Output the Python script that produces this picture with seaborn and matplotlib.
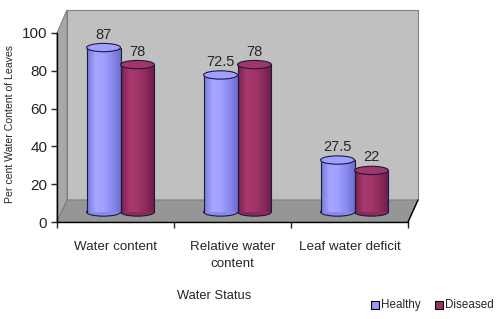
import numpy as np
import pandas as pd
import seaborn as sns
import matplotlib.pyplot as plt
from matplotlib.patches import Polygon, Ellipse
from matplotlib.colors import LinearSegmentedColormap

# Datos
categories = ['Water content', 'Relative water\ncontent', 'Leaf water deficit']
healthy = [87, 72.5, 27.5]
diseased = [78, 78, 22]
series = ['Healthy', 'Diseased']
colors = {'Healthy': '#9999FF', 'Diseased': '#993366'}
y_ticks = [0, 20, 40, 60, 80, 100]

# degradados para simular cilindros
shades = {
    'Healthy': ['#7878D8', '#A6A6FF', '#A0A0FF', '#8A8AEE', '#6E6ECC'],
    'Diseased': ['#7A2050', '#A8386E', '#A33669', '#8C2A5C', '#6E1A46'],
}

df = pd.DataFrame({
    'status': categories * 2,
    'value': healthy + diseased,
    'group': ['Healthy'] * 3 + ['Diseased'] * 3,
})

sns.set_style('white')
plt.rcParams['font.family'] = ['Liberation Sans Narrow', 'Liberation Sans', 'DejaVu Sans']

W, H = 500, 319
fig = plt.figure(figsize=(5, 3.19), dpi=100)

def frac(x0, y0, x1, y1):
    return [x0 / W, 1 - y1 / H, (x1 - x0) / W, (y1 - y0) / H]

# ejes frontales (ticks y etiquetas)
ax = fig.add_axes(frac(57, 33, 408, 222))
ax.set_xlim(-0.5, 2.5)
ax.set_ylim(0, 100)
ax.set_facecolor('none')

dx, dy = 10 / 351, 22 / 189
wall = Polygon([(dx, dy), (1 + dx, dy), (1 + dx, 1.122), (dx, 1.122)], closed=True,
               transform=ax.transAxes, facecolor='#C0C0C0', edgecolor='#808080', lw=0.8,
               clip_on=False, zorder=0)
side = Polygon([(0, 0), (dx, dy), (dx, 1.122), (0, 1.0)], closed=True,
               transform=ax.transAxes, facecolor='#A8A8A8', edgecolor='#808080', lw=0.8,
               clip_on=False, zorder=0)
floor = Polygon([(0, 0), (1, 0), (1 + dx, dy), (dx, dy)], closed=True,
                transform=ax.transAxes, facecolor='#969696', edgecolor='#808080', lw=0.8,
                clip_on=False, zorder=0)
for p in (wall, side, floor):
    ax.add_patch(p)
ax.plot([1, 1 + dx], [0, dy], transform=ax.transAxes, color='black', lw=1, clip_on=False)

for s in ['top', 'right']:
    ax.spines[s].set_visible(False)
for s in ['left', 'bottom']:
    ax.spines[s].set_color('black')
    ax.spines[s].set_linewidth(1)

ax.set_yticks(y_ticks)
ax.set_yticklabels([str(t) for t in y_ticks], fontsize=11)
ax.tick_params(axis='y', length=4, width=1, pad=3, left=True)
ax.set_xticks([-0.5, 0.5, 1.5, 2.5])
ax.set_xticklabels([])
ax.tick_params(axis='x', which='major', length=4, width=1, bottom=True)
ax.set_xticks([0, 1, 2], minor=True)
ax.set_xticklabels(categories, minor=True, fontsize=9.6, linespacing=1.5)
ax.tick_params(axis='x', which='minor', length=0, pad=14)

# ejes de barras (desplazados en profundidad)
ax2 = fig.add_axes(frac(62, 23, 413, 212))
ax2.set_xlim(-0.5, 2.5)
ax2.set_ylim(0, 100)
ax2.patch.set_visible(False)
ax2.axis('off')

sns.barplot(data=df, x='status', y='value', hue='group', hue_order=series,
            palette=colors, width=0.58, ax=ax2, edgecolor='none', linewidth=0,
            legend=False, zorder=2)

eh = 4.4
edge = '#1A1A40'
for i, container in enumerate(ax2.containers):
    name = series[i]
    cmap = LinearSegmentedColormap.from_list(name, shades[name])
    grad = np.linspace(0, 1, 64).reshape(1, -1)
    for bar in container:
        x = bar.get_x()
        w = bar.get_width()
        h = bar.get_height()
        im = ax2.imshow(grad, cmap=cmap, aspect='auto', extent=(x, x + w, 0, h),
                        zorder=2.05, clip_on=False)
        im.set_clip_path(bar)
        ax2.add_patch(Ellipse((x + w / 2, 0), w, eh, facecolor=shades[name][3],
                              edgecolor=edge, lw=0.8, zorder=1.9, clip_on=False))
        ax2.plot([x, x], [0, h], color=edge, lw=0.8, zorder=2.1, clip_on=False)
        ax2.plot([x + w, x + w], [0, h], color=edge, lw=0.8, zorder=2.1, clip_on=False)
        ax2.add_patch(Ellipse((x + w / 2, h), w, eh, facecolor=shades[name][2],
                              edgecolor=edge, lw=0.8, zorder=2.2, clip_on=False))
        ax2.text(x + w / 2, h + 3.2, f'{h:g}', ha='center', va='bottom', fontsize=10.5,
                 zorder=3)
ax2.set_xlim(-0.5, 2.5)
ax2.set_ylim(0, 100)

fig.text(214 / W, 1 - 296 / H, 'Water Status', ha='center', va='center', fontsize=9.3)
fig.text(10 / W, 1 - 124 / H, 'Per cent Water Content of Leaves', ha='center', va='center',
         rotation=90, fontsize=7.6)

# leyenda
for lx, name in [(371, 'Healthy'), (435, 'Diseased')]:
    fig.patches.append(plt.Rectangle((lx / W, 1 - 309 / H), 8 / W, 8 / H,
                                     transform=fig.transFigure, facecolor=colors[name],
                                     edgecolor='black', lw=0.8))
    fig.text((lx + 10) / W, 1 - 305 / H, name, ha='left', va='center', fontsize=8.4)

fig.savefig('out.png', dpi=100)
